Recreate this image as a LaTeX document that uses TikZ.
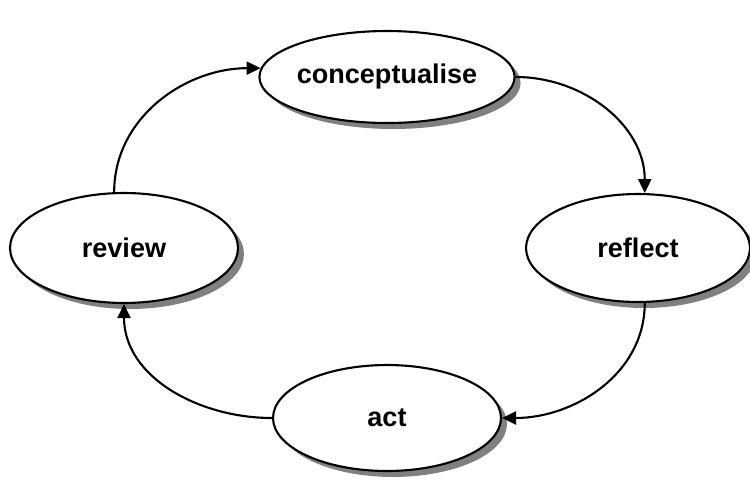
\documentclass[tikz,border=0pt]{standalone}
\usepackage{fontspec}
\setmainfont{Liberation Sans}
\usetikzlibrary{shapes.geometric,shadows,arrows.meta}
\tikzset{
  etape/.style={ellipse, draw, line width=1.2pt, fill=white, inner sep=0pt,
    font=\fontsize{15.4}{18}\selectfont\bfseries,
    drop shadow={shadow xshift=0.12cm, shadow yshift=-0.12cm, fill=black!50, opacity=1}},
  fleche/.style={line width=1.2pt, -{Triangle[length=0.28cm,width=0.26cm]}}
}
\begin{document}
\begin{tikzpicture}[x=0.02cm,y=-0.02cm]
\useasboundingbox (0,0) rectangle (750,480);
% les quatre etapes
\node[etape, minimum width=4.52cm, minimum height=1.84cm] (concept) at (387,77) {conceptualise};
\node[etape, minimum width=4.48cm, minimum height=2.16cm] (reflect) at (638,248) {reflect};
\node[etape, minimum width=4.56cm, minimum height=2.12cm] (act) at (387,418) {act};
\node[etape, minimum width=4.56cm, minimum height=2.2cm] (review) at (124,248) {review};
% le cycle
\draw[fleche] (review.100) to[out=90, in=180] (concept.176);
\draw[fleche] (concept.east) to[out=0, in=90] (reflect.83);
\draw[fleche] (reflect.277) to[out=-90, in=0] (act.east);
\draw[fleche] (act.west) to[out=180, in=-90] (review.south);
\end{tikzpicture}
\end{document}
